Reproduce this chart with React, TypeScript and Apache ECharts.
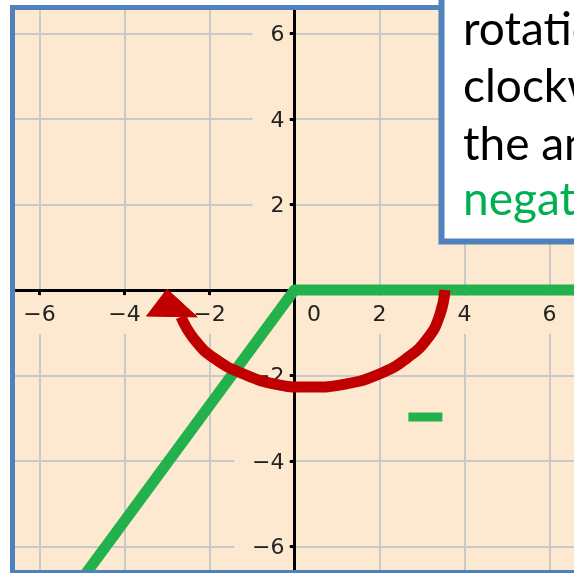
import React, { useEffect, useRef } from 'react';
import * as echarts from 'echarts';

// Axis scale (value units)
const axisMin = -8;
const axisMax = 8;
const tickStep = 2;

// Green angle: terminal ray (slanted) and initial ray (positive x-axis)
const rayX = [-4.96, 0, 6.8];
const rayY = [-6.7, 0, 0];

// Short green dash (minus sign) in the fourth quadrant
const dashX = [2.68, 3.48];
const dashY = [-2.97, -2.97];

// Red rotation arc (from the positive x-axis, clockwise)
const arcX = [3.54, 3.42, 3.14, 2.65, 2.01, 1.19, 0.32, -0.46, -1.21, -1.87, -2.36, -2.67];
const arcY = [0, -0.58, -1.12, -1.59, -1.96, -2.2, -2.27, -2.2, -1.96, -1.61, -1.15, -0.63];

// Arrow head: tip, left base corner, right base corner
const headX = [-3.0, -3.48, -2.29];
const headY = [0.02, -0.61, -0.63];

// Callout text
const noteLines = ['rotation is', 'clockwise,', 'the angle is', 'negative.'];
const noteColors = ['#000000', '#000000', '#000000', '#00b050'];

const PEACH = '#fde9cf';
const BLUE = '#4f81bd';
const GREEN = '#22b14c';
const RED = '#c00000';
const TICK_FONT = 'DejaVu Sans';

const minus = (v: number) => (v < 0 ? '\u2212' + Math.abs(v) : String(v));

export default function App() {
  const ref = useRef<HTMLDivElement>(null);

  useEffect(() => {
    if (!ref.current) return;
    const chart = echarts.init(ref.current, undefined, { renderer: 'svg' });

    const W = 574;
    const H = 573;
    const gridLeft = -45.5;
    const gridRight = -60.5;
    const gridTop = -52;
    const gridBottom = -59;
    const originX = 294.5;
    const originY = 290;

    const labelRich = {
      fontFamily: TICK_FONT,
      fontSize: 22,
      lineHeight: 22,
      color: '#222222',
    };

    const noteBaselines = [45, 102, 160, 215];
    const noteFont = 46;

    chart.setOption({
      animation: false,
      grid: {
        left: gridLeft,
        right: gridRight,
        top: gridTop,
        bottom: gridBottom,
        outerBoundsMode: 'none',
        show: true,
        backgroundColor: PEACH,
        borderWidth: 0,
      },
      xAxis: {
        type: 'value',
        position: 'bottom',
        min: axisMin,
        max: axisMax,
        interval: tickStep,
        offset: -(H - gridBottom - originY),
        axisLine: { onZero: false, lineStyle: { color: '#000', width: 3 } },
        axisTick: { show: true, length: 5, lineStyle: { color: '#000', width: 3 } },
        splitLine: { show: true, lineStyle: { color: '#c9c9c9', width: 2 } },
        axisLabel: {
          margin: 14,
          formatter: (v: number) => {
            if (Math.abs(v) >= 8) return '';
            if (v === 0) return '{z|0}';
            return '{n|' + minus(v) + '}';
          },
          rich: {
            n: { ...labelRich, backgroundColor: PEACH, padding: [6, 10, 10, 10] },
            z: { ...labelRich, padding: [6, 0, 10, 39] },
          },
        },
      },
      yAxis: {
        type: 'value',
        position: 'left',
        min: axisMin,
        max: axisMax,
        interval: tickStep,
        offset: -(originX - gridLeft),
        axisLine: { onZero: false, lineStyle: { color: '#000', width: 3 } },
        axisTick: { show: true, length: 5, lineStyle: { color: '#000', width: 3 } },
        splitLine: { show: true, lineStyle: { color: '#c9c9c9', width: 2 } },
        axisLabel: {
          margin: 5,
          formatter: (v: number) => {
            if (Math.abs(v) >= 8 || v === 0) return '';
            return '{n|' + minus(v) + '}';
          },
          rich: {
            n: { ...labelRich, backgroundColor: PEACH, padding: [8, 5, 8, 18] },
          },
        },
      },
      series: [
        {
          type: 'line',
          data: rayX.map((x, i) => [x, rayY[i]]),
          showSymbol: false,
          symbol: 'none',
          clip: false,
          z: 3,
          lineStyle: { color: GREEN, width: 11, join: 'round', cap: 'butt' },
          silent: true,
        },
        {
          type: 'line',
          data: dashX.map((x, i) => [x, dashY[i]]),
          showSymbol: false,
          symbol: 'none',
          z: 3,
          lineStyle: { color: GREEN, width: 9, cap: 'butt' },
          silent: true,
        },
        {
          type: 'custom',
          coordinateSystem: 'cartesian2d',
          data: [[0, 0]],
          clip: false,
          z: 6,
          silent: true,
          renderItem: (_params: any, api: any) => {
            const pts = arcX.map((x, i) => api.coord([x, arcY[i]]));
            const head = headX.map((x, i) => api.coord([x, headY[i]]));
            return {
              type: 'group',
              children: [
                {
                  type: 'polyline',
                  shape: { points: pts, smooth: 0.5 },
                  style: { stroke: RED, lineWidth: 11, fill: null, lineCap: 'butt', lineJoin: 'round' },
                },
                {
                  type: 'polygon',
                  shape: { points: head },
                  style: { fill: RED, stroke: RED, lineWidth: 1, lineJoin: 'round' },
                },
              ],
            };
          },
        },
      ],
      graphic: [
        { type: 'rect', z: 100, silent: true, shape: { x: 0, y: 0, width: 12.5, height: H }, style: { fill: '#ffffff' } },
        { type: 'rect', z: 100, silent: true, shape: { x: 0, y: 0, width: W, height: 7.5 }, style: { fill: '#ffffff' } },
        {
          type: 'rect', z: 101, silent: true,
          shape: { x: 12.5, y: 7.5, width: 700, height: 565 },
          style: { fill: 'transparent', stroke: BLUE, lineWidth: 5 },
        },
        {
          type: 'rect', z: 102, silent: true,
          shape: { x: 441.5, y: -20, width: 300, height: 261.5 },
          style: { fill: '#ffffff', stroke: BLUE, lineWidth: 6 },
        },
        ...noteLines.map((t, i) => ({
          type: 'text',
          z: 103,
          silent: true,
          x: 463,
          y: noteBaselines[i] - 0.387 * noteFont,
          style: {
            text: t,
            fill: noteColors[i],
            fontFamily: 'Lato',
            fontSize: noteFont,
            align: 'left',
            verticalAlign: 'middle',
          },
        })),
      ],
    });

    return () => chart.dispose();
  }, []);

  return (
    <div
      ref={ref}
      style={{ position: 'fixed', left: 0, top: 0, width: 574, height: 573 }}
    />
  );
}
